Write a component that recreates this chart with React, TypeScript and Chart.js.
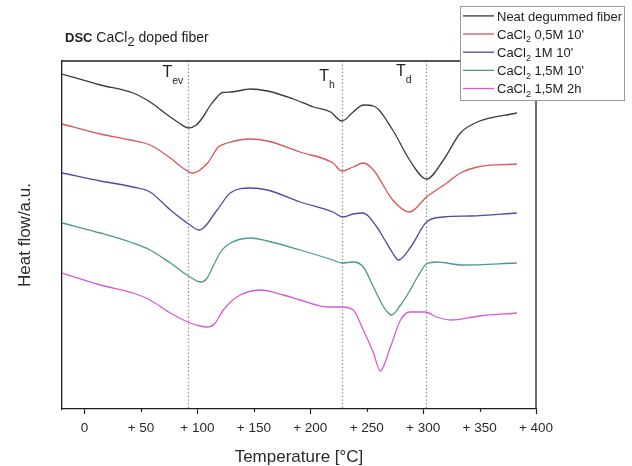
import React, { useEffect, useRef } from "react";
import { Chart, registerables } from "chart.js";

Chart.register(...registerables);

const FONT = "'Liberation Sans', Arial, Helvetica, sans-serif";

// ---- data (temperature in °C, heat flow in arbitrary units) ----
const seriesLabels = [
  "Neat degummed fiber",
  "CaCl_2 0,5M 10'",
  "CaCl_2 1M 10'",
  "CaCl_2 1,5M 10'",
  "CaCl_2 1,5M 2h",
];
const seriesColors = ["#3a3a3a", "#d95757", "#4b4ba6", "#4a9a8e", "#d65ad6"];

const neatT = [-20, 14, 43, 58, 76, 85, 92, 99, 105, 111, 117.5, 122, 130, 147, 162, 185, 203, 218, 228, 238, 247, 256, 273, 288, 303, 318, 333, 348, 383];
const neatHF = [33.5, 32.4, 31.6, 30.7, 29.2, 28.5, 28.1, 28.4, 29.2, 30.3, 31.2, 31.65, 31.7, 32.0, 31.8, 31.0, 30.2, 29.7, 28.8, 29.7, 30.4, 30.3, 27.9, 24.9, 23.0, 24.9, 27.6, 28.7, 29.6];

const ca05T = [-20, 14, 40.5, 58, 76, 87, 96, 109, 118.5, 126.5, 147, 162, 191, 220, 228, 238, 247, 256, 273, 288, 303, 321, 333, 348, 383];
const ca05HF = [28.5, 27.5, 26.9, 26.4, 25.1, 24.1, 23.6, 24.6, 26.2, 26.6, 27.0, 26.8, 25.7, 24.6, 23.8, 24.2, 24.6, 23.9, 20.9, 19.7, 21.2, 22.6, 23.6, 24.2, 24.5];

const ca1T = [-20, 14, 43, 58, 76, 93.5, 101.5, 117.5, 129, 147, 162, 191, 220, 229, 238, 247, 259, 266, 273, 278, 289, 303, 318, 342, 383];
const ca1HF = [23.6, 22.8, 22.2, 21.7, 19.9, 18.4, 17.9, 19.9, 21.6, 22.1, 21.9, 20.7, 19.7, 19.2, 19.5, 19.6, 18.2, 16.9, 15.6, 14.9, 16.2, 18.7, 19.2, 19.3, 19.6];

const ca15T = [-20, 14, 43, 58, 76, 93.5, 102.5, 108, 114, 120, 126.5, 147, 162, 191, 220, 228, 238, 247, 256, 265, 272, 280, 287, 295, 303, 312, 335, 383];
const ca15HF = [18.6, 17.6, 16.6, 15.9, 14.6, 13.2, 12.7, 13.0, 14.3, 15.6, 16.4, 17.1, 16.8, 15.9, 14.9, 14.6, 14.7, 14.2, 12.2, 10.2, 9.4, 10.4, 11.6, 13.2, 14.5, 14.7, 14.4, 14.6];

const ca15hT = [-20, 14, 43, 58, 76, 93.5, 102.5, 108.5, 115, 123, 135, 155.5, 176, 191, 215, 228, 238, 247, 256, 262, 271, 280, 288, 302, 312, 324, 350, 383];
const ca15hHF = [13.6, 12.4, 11.6, 10.9, 9.6, 8.6, 8.3, 8.2, 8.5, 9.9, 11.2, 11.9, 11.4, 10.9, 10.2, 10.2, 9.9, 7.9, 5.6, 3.8, 6.2, 8.9, 9.7, 9.7, 9.2, 8.9, 9.3, 9.6];

const seriesT = [neatT, ca05T, ca1T, ca15T, ca15hT];
const seriesHF = [neatHF, ca05HF, ca1HF, ca15HF, ca15hHF];

const xTickValues = [0, 50, 100, 150, 200, 250, 300, 350, 400];
const xTickLabels = ["0", "+ 50", "+ 100", "+ 150", "+ 200", "+ 250", "+ 300", "+ 350", "+ 400"];

// characteristic temperatures (evaporation, Th, degradation)
const transitionTemps = [92, 228, 302.5];
const transitionSubs = ["ev", "h", "d"];
// label anchor (temperature, heat flow) for each "T" annotation
const transitionLabelT = [69, 208, 276];
const transitionLabelHF = [33.2, 32.8, 33.3];

// ---- rendering helpers ----
type Part = { text: string; size: number; bold?: boolean; dy?: number };

function drawRich(ctx: CanvasRenderingContext2D, x: number, y: number, parts: Part[], color: string) {
  ctx.save();
  ctx.fillStyle = color;
  ctx.textBaseline = "alphabetic";
  ctx.textAlign = "left";
  let cx = x;
  for (const p of parts) {
    ctx.font = `${p.bold ? "bold " : ""}${p.size}px ${FONT}`;
    ctx.fillText(p.text, cx, y + (p.dy || 0));
    cx += ctx.measureText(p.text).width;
  }
  ctx.restore();
}

function subParts(label: string, size: number, subSize: number, dy: number): Part[] {
  const idx = label.indexOf("_");
  if (idx < 0) return [{ text: label, size }];
  return [
    { text: label.slice(0, idx), size },
    { text: label.charAt(idx + 1), size: subSize, dy },
    { text: label.slice(idx + 2), size },
  ];
}

const decorPlugin = {
  id: "decor",
  beforeDatasetsDraw(chart: any) {
    const { ctx, chartArea: a, scales } = chart;
    ctx.save();
    ctx.strokeStyle = "#8c8c8c";
    ctx.lineWidth = 1.3;
    ctx.setLineDash([1.3, 2.3]);
    for (const t of transitionTemps) {
      const px = Math.round(scales.x.getPixelForValue(t)) + 0.5;
      ctx.beginPath();
      ctx.moveTo(px, a.top);
      ctx.lineTo(px, a.bottom);
      ctx.stroke();
    }
    ctx.restore();
  },
  afterDraw(chart: any) {
    const { ctx, chartArea: a, scales } = chart;
    const xs = scales.x;
    const ys = scales.y;

    // top & right frame
    ctx.save();
    ctx.strokeStyle = "#1e1e1e";
    ctx.lineWidth = 1.3;
    ctx.beginPath();
    ctx.moveTo(a.left, a.top);
    ctx.lineTo(a.right, a.top);
    ctx.lineTo(a.right, a.bottom);
    ctx.stroke();

    // minor ticks (shorter)
    ctx.lineWidth = 1.2;
    for (const v of xTickValues) {
      if (v % 100 === 0) continue;
      const px = Math.round(xs.getPixelForValue(v)) + 0.5;
      ctx.beginPath();
      ctx.moveTo(px, a.bottom);
      ctx.lineTo(px, a.bottom + 3);
      ctx.stroke();
    }
    ctx.restore();

    // chart title
    drawRich(ctx, 65, 42, [
      { text: "DSC", size: 13, bold: true },
      { text: " CaCl", size: 14 },
      { text: "2", size: 13, dy: 4 },
      { text: " doped fiber", size: 14 },
    ], "#1e1e1e");

    // transition annotations
    transitionSubs.forEach((sub, i) => {
      const x = xs.getPixelForValue(transitionLabelT[i]);
      const y = ys.getPixelForValue(transitionLabelHF[i]);
      drawRich(ctx, x, y, [
        { text: "T", size: 16 },
        { text: sub, size: 10.5, dy: 6.5 },
      ], "#1e1e1e");
    });

    // legend box (overlaps the frame corner)
    const lx = 460, ly = 6, lw = 164, lh = 94;
    ctx.save();
    ctx.fillStyle = "#ffffff";
    ctx.fillRect(lx, ly, lw, lh);
    ctx.strokeStyle = "#9a9a9a";
    ctx.lineWidth = 1;
    ctx.strokeRect(lx + 0.5, ly + 0.5, lw, lh);
    ctx.restore();
    chart.data.datasets.forEach((ds: any, i: number) => {
      const base = 20.7 + i * 18.15;
      const cy = base - 4.8;
      ctx.save();
      ctx.strokeStyle = ds.borderColor;
      ctx.lineWidth = 1.3;
      ctx.beginPath();
      ctx.moveTo(463, cy);
      ctx.lineTo(494, cy);
      ctx.stroke();
      ctx.restore();
      drawRich(ctx, 497, base, subParts(ds.label, 13, 9, 3.5), "#1e1e1e");
    });
  },
};

export default function App() {
  const ref = useRef<HTMLCanvasElement>(null);

  useEffect(() => {
    const canvas = ref.current;
    if (!canvas) return;
    const chart = new Chart(canvas, {
      type: "line",
      data: {
        datasets: seriesLabels.map((label, i) => ({
          label,
          data: seriesT[i].map((t, j) => ({ x: t, y: seriesHF[i][j] })),
          borderColor: seriesColors[i],
          backgroundColor: seriesColors[i],
          borderWidth: 1.3,
          pointRadius: 0,
          fill: false,
          cubicInterpolationMode: "monotone" as const,
        })),
      },
      options: {
        animation: false,
        responsive: false,
        devicePixelRatio: 1,
        events: [],
        layout: { padding: { left: 0, top: 61, right: 96, bottom: 0 } },
        plugins: {
          legend: { display: false },
          tooltip: { enabled: false },
          title: { display: false },
        },
        scales: {
          x: {
            type: "linear",
            min: -20,
            max: 400,
            afterBuildTicks: (scale: any) => {
              scale.ticks = xTickValues.map((v) => ({ value: v }));
            },
            afterFit: (scale: any) => {
              scale.height = 57;
            },
            ticks: {
              autoSkip: false,
              maxRotation: 0,
              padding: 6,
              color: "#2a2a2a",
              font: { family: FONT, size: 13.5 },
              callback: (value: any) => {
                const k = xTickValues.indexOf(Number(value));
                return k >= 0 ? xTickLabels[k] : "";
              },
            },
            grid: {
              display: true,
              drawOnChartArea: false,
              drawTicks: true,
              tickLength: 5,
              tickWidth: 1.2,
              tickColor: (c: any) => (c.tick && c.tick.value % 100 === 0 ? "#1e1e1e" : "rgba(0,0,0,0)"),
            },
            border: { display: true, color: "#1e1e1e", width: 1.3 },
            title: {
              display: true,
              text: "Temperature [°C]",
              color: "#2a2a2a",
              font: { family: FONT, size: 17, lineHeight: 1 },
              padding: { top: 0, bottom: 0 },
            },
          },
          y: {
            type: "linear",
            min: 0,
            max: 34.8,
            afterFit: (scale: any) => {
              scale.width = 62;
            },
            ticks: { display: false },
            grid: { display: false, drawTicks: false },
            border: { display: true, color: "#1e1e1e", width: 1.3 },
            title: {
              display: true,
              text: "Heat flow/a.u.",
              color: "#2a2a2a",
              font: { family: FONT, size: 17, lineHeight: 1 },
              padding: { top: 16.5, bottom: 0 },
            },
          },
        },
      },
      plugins: [decorPlugin],
    } as any);
    return () => chart.destroy();
  }, []);

  return (
    <div style={{ position: "absolute", left: 0, top: 0, width: 632, height: 466, background: "#fff" }}>
      <canvas ref={ref} width={632} height={466} style={{ display: "block", width: 632, height: 466 }} />
    </div>
  );
}
